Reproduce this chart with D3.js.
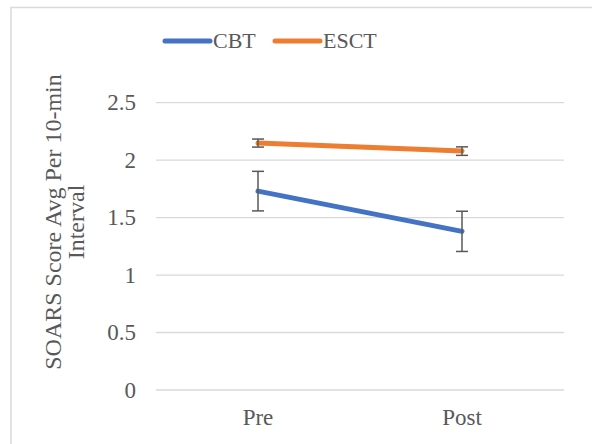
<!DOCTYPE html>
<html><head><meta charset="utf-8">
<script src="https://cdn.jsdelivr.net/npm/d3@7"></script>
<style>body{margin:0;background:#fff}svg{display:block}</style>
</head><body>
<svg id="c" width="592" height="444"></svg>
<script>
const categories = ["Pre", "Post"];
const seriesNames = ["CBT", "ESCT"];
const cbtValues = [1.73, 1.38];
const cbtErrors = [0.172, 0.175];
const esctValues = [2.148, 2.078];
const esctErrors = [0.035, 0.037];
const yTicks = [0, 0.5, 1, 1.5, 2, 2.5];
const yTickLabels = ["0", "0.5", "1", "1.5", "2", "2.5"];
const colors = ["#4472C4", "#ED7D31"];

const svg = d3.select("#c");
const font = "'Liberation Serif','Times New Roman',serif";
svg.append("rect").attr("x", 11).attr("y", 7.5).attr("width", 600).attr("height", 460)
  .attr("fill", "#fff").attr("stroke", "#d9d9d9").attr("stroke-width", 1.5);

const x = d3.scaleBand().domain(categories).range([156, 564]);
const y = d3.scaleLinear().domain([0, 2.5]).range([390, 102.6]);
const cx = d => x(d) + x.bandwidth() / 2;

// gridlines
svg.append("g").selectAll("line").data(yTicks).join("line")
  .attr("x1", 156).attr("x2", 564)
  .attr("y1", d => y(d)).attr("y2", d => y(d))
  .attr("stroke", "#d9d9d9").attr("stroke-width", 1.3);

// y axis labels
const yAxis = d3.axisLeft(y).tickValues(yTicks).tickFormat((d, i) => yTickLabels[i]).tickSize(0).tickPadding(0);
const ya = svg.append("g").attr("transform", "translate(136,0)").call(yAxis);
ya.select(".domain").remove();
ya.selectAll("text").attr("font-family", font).attr("font-size", 23).attr("fill", "#595959");

// x axis labels
const xAxis = d3.axisBottom(x).tickSize(0).tickPadding(0);
const xa = svg.append("g").attr("transform", "translate(0,405)").call(xAxis);
xa.select(".domain").remove();
xa.selectAll("text").attr("font-family", font).attr("font-size", 23).attr("fill", "#595959").attr("dy", "0.87em");

// y title
const yt = svg.append("text").attr("transform", "translate(61,222) rotate(-90)")
  .attr("text-anchor", "middle").attr("font-family", font).attr("font-size", 24).attr("fill", "#595959");
yt.append("tspan").attr("x", 0).attr("dy", 0).text("SOARS Score Avg Per 10-min");
yt.append("tspan").attr("x", 0).attr("dy", 23).text("Interval");

const series = [
  {name: seriesNames[0], values: cbtValues, errors: cbtErrors, color: colors[0]},
  {name: seriesNames[1], values: esctValues, errors: esctErrors, color: colors[1]}
];
const line = d3.line().x((d, i) => cx(categories[i])).y(d => y(d));

series.forEach(s => {
  svg.append("path").datum(s.values).attr("d", line)
    .attr("fill", "none").attr("stroke", s.color).attr("stroke-width", 5).attr("stroke-linecap", "round");
});
// error bars
series.forEach(s => {
  const g = svg.append("g").attr("stroke", "#595959").attr("stroke-width", 1.5);
  s.values.forEach((v, i) => {
    const px = cx(categories[i]);
    g.append("line").attr("x1", px).attr("x2", px).attr("y1", y(v + s.errors[i])).attr("y2", y(v - s.errors[i]));
    [v + s.errors[i], v - s.errors[i]].forEach(e => {
      g.append("line").attr("x1", px - 6).attr("x2", px + 6).attr("y1", y(e)).attr("y2", y(e));
    });
  });
});

// legend
const leg = svg.append("g");
const legX = [163, 273];
series.forEach((s, i) => {
  leg.append("line").attr("x1", legX[i] + 2).attr("x2", legX[i] + 47).attr("y1", 41).attr("y2", 41)
    .attr("stroke", s.color).attr("stroke-width", 5).attr("stroke-linecap", "round");
  leg.append("text").attr("x", legX[i] + 50).attr("y", 48).attr("font-family", font).attr("font-size", 22)
    .attr("fill", "#595959").text(s.name);
});
</script>
</body></html>
